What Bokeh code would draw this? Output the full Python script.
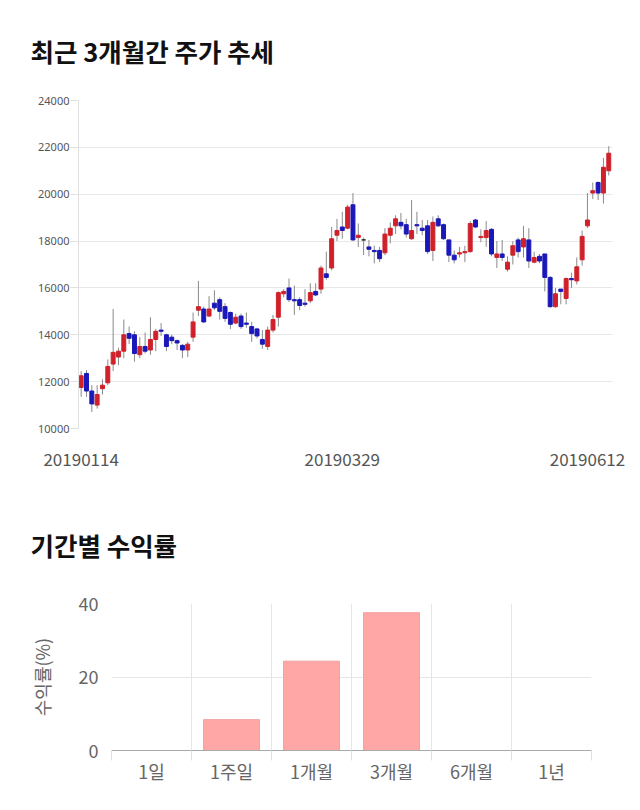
from bokeh.plotting import figure
from bokeh.models import FixedTicker, Range1d, ColumnDataSource
from bokeh.embed import file_html
from bokeh.resources import INLINE

# ---- candle data (KRW) ----
opens = [11750, 12350, 11600, 11000, 11700, 11950, 12750, 13050, 13300, 14050,
         14000, 13150, 13500, 13350, 13800, 14200, 14000, 13900, 13750, 13550,
         13350, 13900, 15050, 15100, 14800, 15350, 15500, 15200, 14950, 14500,
         14800, 14500, 14350, 14250, 13800, 13500, 14200, 14750, 15750, 16000,
         15500, 15500, 15350, 15450, 15850, 15950, 16600, 16850, 18250, 18600,
         18550, 19550, 18150, 18050, 17750, 17600, 17600, 17500, 18250, 18650,
         18800, 18700, 18100, 18700, 18550, 18650, 17600, 18950, 18700, 18050,
         17400, 17450, 17500, 17550, 18900, 18150, 18150, 18500, 17300, 17450,
         16800, 17400, 18050, 17750, 18050, 17100, 17350, 17450, 16450, 15200,
         15950, 15550, 16400, 16300, 17200, 18650, 20050, 20500, 20050, 21000]
highs = [12450, 12500, 11850, 11850, 12100, 12950, 15100, 13450, 14650, 14350,
         14150, 13900, 14100, 14750, 14250, 14500, 14050, 14000, 13800, 13600,
         13700, 14950, 16300, 15200, 15650, 15900, 15600, 15350, 15000, 14900,
         14900, 14950, 14550, 14300, 14200, 14350, 14850, 15850, 15950, 16400,
         16100, 15600, 15950, 16200, 16200, 16950, 17550, 18600, 18950, 19250,
         19550, 20050, 18750, 18150, 18050, 17800, 17750, 18550, 18800, 19100,
         19200, 18950, 19750, 19250, 18900, 18900, 19050, 19100, 18750, 18050,
         17600, 17750, 17800, 18850, 18950, 18500, 18850, 18550, 18000, 18050,
         17350, 18000, 18150, 18650, 18550, 17550, 17450, 17450, 16500, 16000,
         15950, 16450, 16650, 17300, 18450, 20050, 20500, 20550, 21550, 22050]
lows = [11350, 11350, 10700, 10850, 11450, 11850, 12450, 12700, 13000, 13600,
        12850, 13000, 13200, 13150, 13300, 13950, 13300, 13600, 13350, 13000,
        13050, 13700, 14800, 14500, 14750, 15050, 14650, 14550, 14250, 14450,
        14250, 14300, 13700, 13850, 13400, 13350, 14100, 14350, 15600, 15400,
        14850, 15050, 15200, 15350, 15650, 15750, 16350, 16750, 18000, 18100,
        18500, 18000, 17750, 17400, 17350, 17050, 17100, 17400, 17900, 18300,
        18500, 18150, 18050, 18300, 18250, 17450, 17150, 18600, 18050, 17100,
        17050, 17300, 17100, 17500, 18550, 17950, 17750, 17350, 16850, 17150,
        16700, 17000, 17300, 17300, 16850, 17050, 17050, 15850, 15150, 15150,
        15300, 15300, 16000, 16150, 16950, 18550, 19800, 19750, 19600, 20800]
closes = [12250, 11600, 11050, 11450, 11850, 12650, 13250, 13300, 14000, 13850,
          13200, 13500, 13300, 13800, 14150, 14150, 13500, 13750, 13650, 13350,
          13600, 14550, 15200, 14550, 15100, 15150, 15000, 14700, 14450, 14750,
          14350, 14450, 14050, 13950, 13600, 14200, 14650, 15800, 15850, 15500,
          15450, 15250, 15300, 15800, 15700, 16850, 16450, 18100, 18450, 18450,
          19450, 18050, 18250, 18050, 17650, 17550, 17250, 18300, 18550, 18950,
          18650, 18300, 18450, 18650, 18450, 17550, 18800, 18650, 18100, 17400,
          17200, 17500, 17550, 18750, 18600, 18200, 18450, 17450, 17450, 17300,
          17100, 17800, 17550, 18100, 17150, 17300, 17150, 16450, 15200, 15750,
          15850, 16400, 16350, 16900, 18200, 18900, 20150, 20050, 21150, 21750]

price_ticks = [10000, 12000, 14000, 16000, 18000, 20000, 22000, 24000]
date_labels = ["20190114", "20190329", "20190612"]
date_label_index = [0, 49, 95]

# ---- period returns (%) ----
periods = ["1일", "1주일", "1개월", "3개월", "6개월", "1년"]
returns = [0.0, 8.4, 24.3, 37.5, float("nan"), float("nan")]
return_ticks = [0, 20, 40]

UP = "#d0202a"
DOWN = "#1a18b8"

n = len(opens)
idx = list(range(n))
tops = [max(o, c) for o, c in zip(opens, closes)]
bots = [min(o, c) for o, c in zip(opens, closes)]
cols = [UP if c > o else (DOWN if c < o else "#222222") for o, c in zip(opens, closes)]
src = ColumnDataSource(dict(x=idx, o=opens, h=highs, l=lows, c=closes, top=tops, bot=bots, col=cols))

KFONT = "Noto Sans CJK KR"

p1 = figure(width=640, height=485, output_backend="svg", toolbar_location=None,
            x_range=Range1d(-0.5, n - 0.3), y_range=Range1d(10000, 24000),
            min_border_left=78, min_border_right=28, min_border_top=100, min_border_bottom=57)
p1.title.text = "최근 3개월간 주가 추세"
p1.title.text_font = KFONT
p1.title.text_font_size = "25.5px"
p1.title.text_font_style = "bold"
p1.title.text_color = "#111111"
p1.title.align = "left"
p1.title.vertical_align = "top"
p1.title.offset = -48
p1.title.standoff = 60
p1.outline_line_color = None
p1.xgrid.grid_line_color = None
p1.ygrid.grid_line_color = "#e8e8e8"
p1.yaxis.ticker = FixedTicker(ticks=price_ticks)
p1.yaxis.major_label_text_font = "Noto Sans"
p1.yaxis.major_label_text_font_size = "11px"
p1.yaxis.major_label_text_color = "#555555"
p1.yaxis.axis_line_color = "#e0e0e0"
p1.yaxis.major_tick_line_color = "#e0e0e0"
p1.yaxis.major_tick_out = 8
p1.yaxis.major_tick_in = 0
p1.yaxis.minor_tick_line_color = None
p1.yaxis.major_label_standoff = 1
p1.xaxis.ticker = FixedTicker(ticks=date_label_index)
p1.xaxis.major_label_overrides = {i: s for i, s in zip(date_label_index, date_labels)}
p1.xaxis.axis_line_color = None
p1.xaxis.major_tick_line_color = None
p1.xaxis.minor_tick_line_color = None
p1.xaxis.major_tick_out = 0
p1.xaxis.major_label_standoff = 24
p1.xaxis.major_label_text_font = KFONT
p1.xaxis.major_label_text_font_size = "17px"
p1.xaxis.major_label_text_color = "#555555"

p1.segment(x0="x", y0="l", x1="x", y1="h", source=src, line_color="#8a8a8a", line_width=1)
p1.vbar(x="x", width=0.74, top="top", bottom="bot", source=src,
        fill_color="col", line_color="col", line_width=1)

# ---- bar chart ----
xpos = [i + 0.5 for i in range(len(periods))]
p2 = figure(width=640, height=325, output_backend="svg", toolbar_location=None,
            x_range=Range1d(0, len(periods)), y_range=Range1d(0, 40),
            min_border_left=111, min_border_right=49, min_border_top=118, min_border_bottom=60)
p2.title.text = "기간별 수익률"
p2.title.text_font = KFONT
p2.title.text_font_size = "25.5px"
p2.title.text_font_style = "bold"
p2.title.text_color = "#111111"
p2.title.align = "left"
p2.title.vertical_align = "top"
p2.title.offset = -81
p2.title.standoff = 78
p2.outline_line_color = None
p2.vbar(x=xpos, width=0.7, top=returns, bottom=0, fill_color="#ffa6a6", line_color="#f2a0a0", line_width=1)
p2.yaxis.ticker = FixedTicker(ticks=return_ticks)
p2.yaxis.axis_line_color = None
p2.yaxis.major_tick_line_color = None
p2.yaxis.minor_tick_line_color = None
p2.yaxis.major_tick_out = 0
p2.yaxis.major_label_standoff = 13
p2.yaxis.major_label_text_font = KFONT
p2.yaxis.major_label_text_font_size = "18px"
p2.yaxis.major_label_text_color = "#666666"
p2.yaxis.axis_label = "수익률(%)"
p2.yaxis.axis_label_text_font = KFONT
p2.yaxis.axis_label_text_font_size = "18px"
p2.yaxis.axis_label_text_font_style = "normal"
p2.yaxis.axis_label_text_color = "#666666"
p2.yaxis.axis_label_standoff = 21
p2.xaxis.ticker = FixedTicker(ticks=xpos, minor_ticks=list(range(len(periods) + 1)))
p2.xaxis.major_label_overrides = {x: s for x, s in zip(xpos, periods)}
p2.xaxis.axis_line_color = "#aaaaaa"
p2.xaxis.major_tick_line_color = None
p2.xaxis.major_tick_out = 0
p2.xaxis.minor_tick_line_color = "#e0e0e0"
p2.xaxis.minor_tick_out = 10
p2.xaxis.minor_tick_in = 0
p2.xaxis.major_label_standoff = -3
p2.xaxis.major_label_text_font = KFONT
p2.xaxis.major_label_text_font_size = "18px"
p2.xaxis.major_label_text_color = "#666666"
p2.xgrid.grid_line_color = None
p2.xgrid.minor_grid_line_color = "#e6e6e6"
p2.ygrid.grid_line_color = "#e6e6e6"

open("out.html", "w").write(file_html([p1, p2], INLINE))
